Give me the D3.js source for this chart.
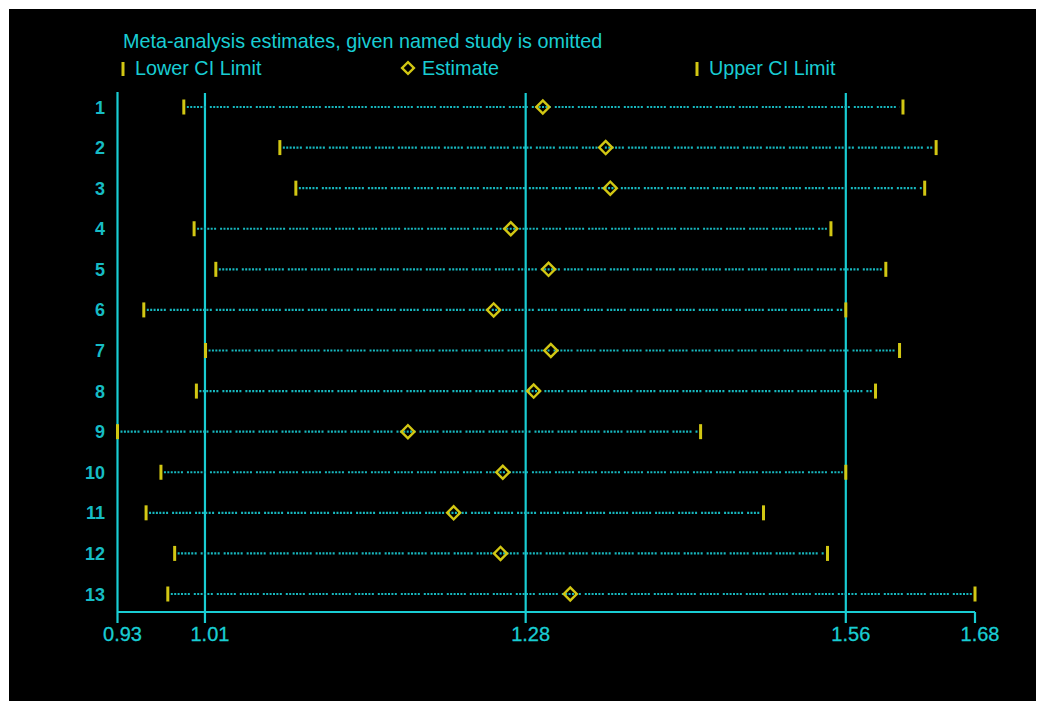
<!DOCTYPE html>
<html>
<head>
<meta charset="utf-8">
<script src="https://cdn.jsdelivr.net/npm/d3@7"></script>
<style>
  html, body { margin: 0; padding: 0; background: #fff; }
  svg { display: block; }
  text { font-family: Arial, 'Liberation Sans', sans-serif; }
</style>
</head>
<body>
<main></main>
<script>
'use strict'

// omitted study number
var studies = ['1', '2', '3', '4', '5', '6', '7', '8', '9', '10', '11', '12', '13']
var lower = [0.988, 1.072, 1.086, 0.997, 1.016, 0.953, 1.007, 0.999, 0.930, 0.968, 0.955, 0.980, 0.974]
var estimate = [1.302, 1.357, 1.361, 1.274, 1.307, 1.259, 1.309, 1.294, 1.184, 1.267, 1.224, 1.265, 1.326]
var upper = [1.617, 1.646, 1.636, 1.554, 1.602, 1.567, 1.614, 1.593, 1.440, 1.567, 1.495, 1.551, 1.680]

// overall lower / estimate / upper (reference lines) plus axis ends
var tickValues = [0.930, 1.0065, 1.287, 1.567, 1.680]
var tickLabels = ['0.93', '1.01', '1.28', '1.56', '1.68']
var refLines = [1.0065, 1.287, 1.567]

var title = 'Meta-analysis estimates, given named study is omitted'
var legendItems = ['Lower CI Limit', 'Estimate', 'Upper CI Limit']

var opts = {
  width: 1045,
  height: 708,
  cyan: '#19cdd3',
  dots: '#17b8bf',
  yellow: '#d2c713'
}

var rows = studies.map(function (s, i) {
  return { study: s, lo: lower[i], est: estimate[i], hi: upper[i] }
})

var svg = d3.select('main').append('svg')
  .attr('width', opts.width)
  .attr('height', opts.height)

svg.append('rect')
  .attr('x', 9).attr('y', 9)
  .attr('width', 1027).attr('height', 692)
  .attr('fill', '#000')

var x = d3.scaleLinear().domain([0.93, 1.68]).range([117.5, 975])
var y = d3.scalePoint().domain(studies).range([107, 594])

var axisY = 612
var topY = 92

// title + legend
svg.append('text')
  .attr('x', 123).attr('y', 48)
  .attr('fill', opts.cyan)
  .attr('font-size', 19.8)
  .text(title)

var legend = svg.append('g')
var legendX = [123, 408, 697]
legend.selectAll('text')
  .data(legendItems)
  .enter().append('text')
  .attr('x', function (d, i) { return legendX[i] + (i === 1 ? 14 : 12) })
  .attr('y', 75)
  .attr('fill', opts.cyan)
  .attr('font-size', 19.8)
  .text(function (d) { return d })

legend.selectAll('line')
  .data([legendX[0], legendX[2]])
  .enter().append('line')
  .attr('x1', function (d) { return d }).attr('x2', function (d) { return d })
  .attr('y1', 62).attr('y2', 76)
  .attr('stroke', opts.yellow)
  .attr('stroke-width', 3)

legend.append('path')
  .attr('d', d3.symbol().type(d3.symbolSquare).size(70))
  .attr('transform', 'translate(' + legendX[1] + ',68) rotate(45)')
  .attr('fill', 'none')
  .attr('stroke', opts.yellow)
  .attr('stroke-width', 2.4)

// frame: left axis, bottom axis and reference lines
var g = svg.append('g')

g.append('line')
  .attr('x1', x(0.93)).attr('x2', x(0.93))
  .attr('y1', topY).attr('y2', axisY + 11)
  .attr('stroke', opts.cyan).attr('stroke-width', 2.2)

g.append('line')
  .attr('x1', x(0.93)).attr('x2', x(1.68))
  .attr('y1', axisY).attr('y2', axisY)
  .attr('stroke', opts.cyan).attr('stroke-width', 2.2)

g.selectAll('.ref')
  .data(refLines)
  .enter().append('line')
  .attr('class', 'ref')
  .attr('x1', function (d) { return x(d) }).attr('x2', function (d) { return x(d) })
  .attr('y1', topY + 1).attr('y2', axisY + 11)
  .attr('stroke', opts.cyan).attr('stroke-width', 2.2)

g.append('line')
  .attr('x1', x(1.68)).attr('x2', x(1.68))
  .attr('y1', axisY).attr('y2', axisY + 11)
  .attr('stroke', opts.cyan).attr('stroke-width', 2.2)

g.selectAll('.tick-label')
  .data(tickValues)
  .enter().append('text')
  .attr('class', 'tick-label')
  .attr('x', function (d) { return x(d) + 5 })
  .attr('y', 641)
  .attr('text-anchor', 'middle')
  .attr('fill', opts.cyan)
  .attr('font-size', 20)
  .attr('stroke', opts.cyan)
  .attr('stroke-width', 0.3)
  .text(function (d, i) { return tickLabels[i] })

// study rows
var row = g.selectAll('.row')
  .data(rows)
  .enter().append('g')
  .attr('class', 'row')
  .attr('transform', function (d) { return 'translate(0,' + y(d.study) + ')' })

row.append('text')
  .attr('x', 105)
  .attr('y', 6.5)
  .attr('text-anchor', 'end')
  .attr('fill', '#16bcc4')
  .attr('font-size', 18)
  .attr('font-weight', 'bold')
  .text(function (d) { return d.study })

row.append('line')
  .attr('x1', function (d) { return x(d.lo) + 3 })
  .attr('x2', function (d) { return x(d.hi) - 3 })
  .attr('y1', 0).attr('y2', 0)
  .attr('stroke', opts.dots)
  .attr('stroke-width', 2.2)
  .attr('stroke-dasharray', '2,1.4,2,1.4,2,1.4,2,1.4,2,1.4,2,4')

row.selectAll('.limit')
  .data(function (d) { return [d.lo, d.hi] })
  .enter().append('line')
  .attr('class', 'limit')
  .attr('x1', function (d) { return x(d) }).attr('x2', function (d) { return x(d) })
  .attr('y1', -7.5).attr('y2', 7.5)
  .attr('stroke', opts.yellow)
  .attr('stroke-width', 3)

row.append('path')
  .attr('d', d3.symbol().type(d3.symbolSquare).size(85))
  .attr('transform', function (d) { return 'translate(' + x(d.est) + ',0) rotate(45)' })
  .attr('fill', 'none')
  .attr('stroke', opts.yellow)
  .attr('stroke-width', 2.4)
</script>
</body>
</html>
